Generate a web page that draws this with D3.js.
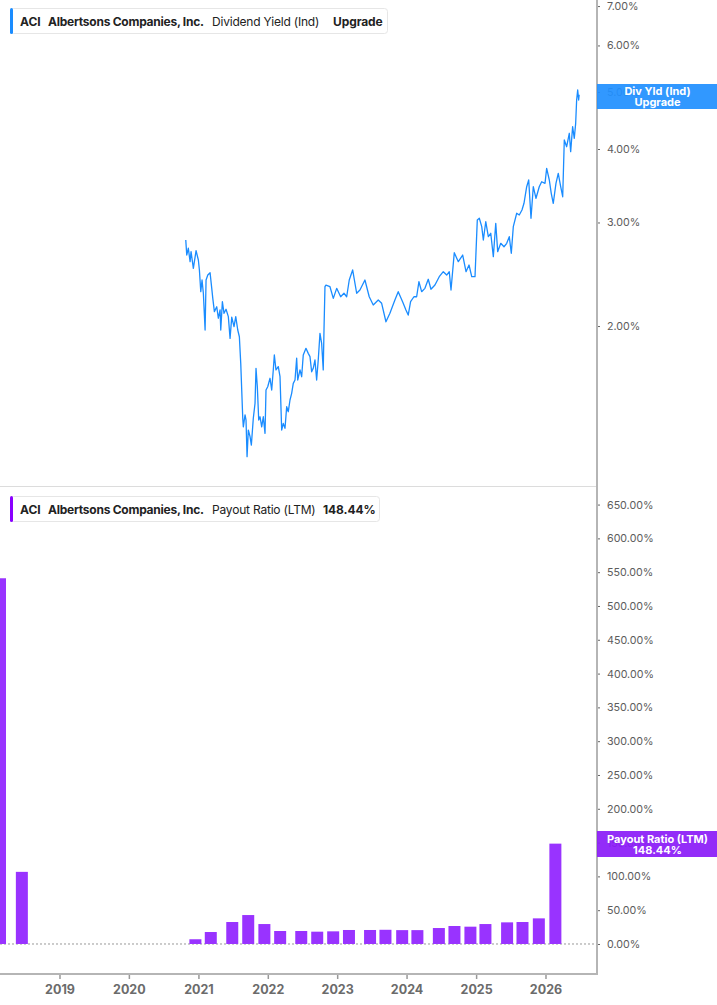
<!DOCTYPE html>
<html><head><meta charset="utf-8">
<script src="https://cdn.jsdelivr.net/npm/d3@7"></script>
<style>
html,body{margin:0;padding:0;background:#fff;}
svg{display:block;font-family:Inter,"Noto Sans",sans-serif;}
</style>
</head><body>
<svg id="chart" width="717" height="1005"></svg>
<script>
// ---------- DATA ----------
// Dividend yield (indicated), % — dates as decimal years
const yieldYears = [2020.818,2020.832,2020.855,2020.880,2020.894,2020.927,2020.966,2020.999,2021.014,2021.034,2021.052,2021.071,2021.096,2021.110,2021.135,2021.168,2021.192,2021.207,2021.230,2021.264,2021.287,2021.312,2021.322,2021.345,2021.369,2021.398,2021.431,2021.456,2021.480,2021.513,2021.538,2021.567,2021.590,2021.610,2021.624,2021.639,2021.647,2021.672,2021.686,2021.701,2021.719,2021.744,2021.763,2021.791,2021.816,2021.830,2021.849,2021.869,2021.888,2021.912,2021.935,2021.960,2021.974,2021.999,2022.032,2022.056,2022.079,2022.094,2022.118,2022.151,2022.176,2022.200,2022.223,2022.248,2022.272,2022.295,2022.320,2022.344,2022.367,2022.392,2022.416,2022.431,2022.464,2022.488,2022.511,2022.550,2022.583,2022.608,2022.632,2022.655,2022.680,2022.704,2022.727,2022.752,2022.776,2022.799,2022.810,2022.824,2022.838,2022.896,2022.944,2022.993,2023.050,2023.098,2023.137,2023.174,2023.223,2023.281,2023.328,2023.400,2023.462,2023.520,2023.592,2023.641,2023.703,2023.760,2023.832,2023.880,2023.943,2023.991,2024.024,2024.058,2024.106,2024.145,2024.178,2024.217,2024.264,2024.312,2024.351,2024.408,2024.470,2024.528,2024.577,2024.614,2024.639,2024.686,2024.744,2024.807,2024.855,2024.898,2024.937,2024.984,2025.017,2025.046,2025.081,2025.104,2025.139,2025.176,2025.211,2025.248,2025.283,2025.311,2025.355,2025.402,2025.441,2025.478,2025.507,2025.536,2025.585,2025.622,2025.661,2025.690,2025.729,2025.758,2025.791,2025.824,2025.863,2025.910,2025.945,2025.993,2026.017,2026.055,2026.083,2026.112,2026.151,2026.184,2026.219,2026.248,2026.271,2026.305,2026.343,2026.363,2026.391,2026.415,2026.435,2026.449,2026.464,2026.478,2026.485];
const yieldValues = [2.801,2.641,2.712,2.573,2.676,2.507,2.686,2.590,2.491,2.288,2.395,2.274,1.969,2.395,2.442,2.464,2.318,2.229,2.116,2.157,2.062,2.130,1.969,2.200,2.102,2.136,2.075,1.906,2.070,1.995,2.075,1.969,1.918,1.728,1.557,1.394,1.348,1.412,1.384,1.199,1.331,1.297,1.255,1.394,1.478,1.695,1.577,1.384,1.402,1.348,1.402,1.314,1.557,1.577,1.630,1.557,1.684,1.786,1.684,1.706,1.640,1.331,1.366,1.340,1.458,1.430,1.497,1.537,1.598,1.619,1.763,1.619,1.684,1.640,1.786,1.833,1.797,1.774,1.672,1.695,1.751,1.619,1.751,1.944,1.869,1.684,1.969,2.333,2.348,2.333,2.229,2.318,2.243,2.274,2.243,2.395,2.491,2.274,2.303,2.395,2.243,2.172,2.215,2.186,2.034,2.102,2.215,2.288,2.200,2.130,2.088,2.200,2.243,2.243,2.379,2.288,2.318,2.402,2.310,2.348,2.426,2.474,2.442,2.474,2.303,2.665,2.573,2.641,2.474,2.540,2.426,2.426,3.029,3.050,2.951,2.801,3.009,2.838,2.876,2.624,2.990,2.676,2.765,2.728,2.765,2.838,2.659,2.951,3.110,3.089,3.150,3.234,3.451,3.543,3.050,3.451,3.298,3.451,3.519,3.497,3.709,3.543,3.363,3.234,3.497,3.637,3.451,3.318,4.144,4.036,4.254,3.958,4.365,4.171,4.423,4.846,5.040,4.846,4.950];

// Payout ratio (LTM), % — quarterly periods
const payoutDates = ["2018-02-22","2018-06-17","2020-12-16","2021-03-07","2021-06-28","2021-09-20","2021-12-14","2022-03-07","2022-06-26","2022-09-18","2022-12-11","2023-03-04","2023-06-23","2023-09-12","2023-12-09","2024-02-27","2024-06-19","2024-09-09","2024-12-02","2025-02-19","2025-06-13","2025-09-02","2025-11-27","2026-02-22"];
const payoutValues = [541,106.7,7,17.7,32.5,42.8,29.5,19.2,19.2,18.2,18.7,20.7,20.7,21.0,20.5,20.5,23.6,26.6,25.6,29.5,32.0,32.5,37.9,148.44];

const yieldTicks = [2,3,4,5,6,7];
const payoutTicks = [0,50,100,150,200,250,300,350,400,450,500,550,600,650];
const yearTicks = [2019,2020,2021,2022,2023,2024,2025,2026];

const ticker = "ACI";
const company = "Albertsons Companies, Inc.";
const topMetric = "Dividend Yield (Ind)";
const topValueText = "Upgrade";
const botMetric = "Payout Ratio (LTM)";
const botValueText = "148.44%";

// ---------- SETUP ----------
const BLUE = "#1a8cff", BLUE_BOX = "#2190ff", PURPLE = "#9933ff", PURPLE_BOX = "#8b1cf7";
const svg = d3.select("#chart");
const plotR = 597;
const topP = {y0: 0, y1: 486};
const botP = {y0: 487, y1: 974};

function yearToDate(t){
  const y = Math.floor(t);
  const s = Date.UTC(y,0,1), e = Date.UTC(y+1,0,1);
  return new Date(s + (t - y) * (e - s));
}
const parse = d3.utcParse("%Y-%m-%d");

const x = d3.scaleUtc().domain([parse("2018-02-22"), parse("2026-09-29")]).range([0, plotR]);
const yTop = d3.scaleLog().domain([1.0691, 7.1685]).range([topP.y1, topP.y0]);
const yBot = d3.scaleLinear().domain([-44.4, 676]).range([botP.y1, botP.y0]);

// ---------- TOP PANEL ----------
const lineData = yieldYears.map((t,i)=>({d: yearToDate(t), v: yieldValues[i]}));
svg.append("path").datum(lineData)
  .attr("fill","none").attr("stroke",BLUE).attr("stroke-width",1.3).attr("stroke-linejoin","round")
  .attr("d", d3.line().x(d=>x(d.d)).y(d=>yTop(d.v)));

// panel separator
svg.append("line").attr("x1",0).attr("x2",plotR).attr("y1",486.5).attr("y2",486.5)
  .attr("stroke","#dcdcdc").attr("stroke-width",1);

const tickFmt = d=>d3.format(".2f")(d)+"%";
function styleY(g){
  g.select(".domain").remove();
  g.selectAll(".tick line").attr("stroke","#666");
  g.selectAll(".tick text").attr("fill","#5c5c5c").style("font-size","10.7px").style("font-family","Inter");
}
// top y axis
svg.append("g").attr("transform",`translate(${plotR},0)`)
  .call(d3.axisRight(yTop).tickValues(yieldTicks).tickSize(3).tickPadding(7).tickFormat(tickFmt))
  .call(styleY);

// ---------- BOTTOM PANEL ----------
svg.append("line").attr("x1",0).attr("x2",plotR).attr("y1",yBot(0)).attr("y2",yBot(0))
  .attr("stroke","#999").attr("stroke-width",1).attr("stroke-dasharray","2,2");

const barW = 12;
svg.append("g").selectAll("rect").data(payoutDates.map((d,i)=>({d: parse(d), v: payoutValues[i]})))
  .join("rect")
  .attr("x", d=>x(d.d)-barW/2).attr("width", barW)
  .attr("y", d=>yBot(d.v)).attr("height", d=>yBot(0)-yBot(d.v))
  .attr("fill", PURPLE);

svg.append("g").attr("transform",`translate(${plotR},0)`)
  .call(d3.axisRight(yBot).tickValues(payoutTicks).tickSize(3).tickPadding(7).tickFormat(tickFmt))
  .call(styleY);

// x axis
const gX = svg.append("g").attr("transform",`translate(0,${botP.y1})`)
  .call(d3.axisBottom(x).tickValues(yearTicks.map(y=>yearToDate(y))).tickSize(5).tickPadding(6)
    .tickFormat(d3.utcFormat("%Y")));
gX.select(".domain").remove();
gX.selectAll(".tick line").attr("stroke","#999").attr("stroke-width",1.5);
gX.selectAll(".tick text").attr("fill","#6b6b6b").style("font-size","12.5px").style("font-weight","700").style("font-family","Inter");

svg.append("line").attr("x1",0).attr("x2",plotR+1).attr("y1",botP.y1).attr("y2",botP.y1)
  .attr("stroke","#b5b5b5").attr("stroke-width",2);
// right axis line
svg.append("line").attr("x1",plotR).attr("x2",plotR).attr("y1",0).attr("y2",botP.y1+1)
  .attr("stroke","#b5b5b5").attr("stroke-width",2);

// ---------- VALUE LABEL BOXES ----------
function valueBox(yc, h, color, l1, l2){
  const g = svg.append("g");
  g.append("rect").attr("x",plotR).attr("y",yc-h/2).attr("width",717-plotR).attr("height",h)
    .attr("fill",color).attr("fill-opacity",0.93);
  g.append("text").attr("x",(plotR+717)/2+0.5).attr("y",yc-1.5).attr("text-anchor","middle")
    .attr("fill","#fff").style("font-size","11px").style("font-weight","700").text(l1);
  g.append("text").attr("x",(plotR+717)/2+0.5).attr("y",yc+9.5).attr("text-anchor","middle")
    .attr("fill","#fff").style("font-size","11px").style("font-weight","700").text(l2);
}
valueBox(96.5, 25, BLUE_BOX, "Div Yld (Ind)", topValueText);
valueBox(844, 26, PURPLE_BOX, botMetric, botValueText);

// ---------- LEGENDS ----------
function legend(y, w, color, metric, valText, valBold){
  const g = svg.append("g");
  g.append("rect").attr("x",10.5).attr("y",y+0.5).attr("width",w).attr("height",25).attr("rx",3)
    .attr("fill","#fff").attr("stroke","#e6e6e6");
  g.append("rect").attr("x",10).attr("y",y).attr("width",3).attr("height",26).attr("rx",1.5).attr("fill",color);
  const ty = y + 17.5;
  const t = (xx, s, wt, ls) => g.append("text").attr("x",xx).attr("y",ty).attr("fill","#222")
    .style("font-size","12px").style("font-weight",wt).style("letter-spacing",ls+"px").text(s);
  t(20, ticker, 700, 0);
  t(48, company, 700, -0.25);
  t(212, metric, 400, -0.2);
  t(valBold, valText, 700, -0.1);
}
legend(8, 377, BLUE, topMetric, topValueText, 333);
legend(496, 369, "#8a00ff", botMetric, botValueText, 323);
</script>
</body></html>
